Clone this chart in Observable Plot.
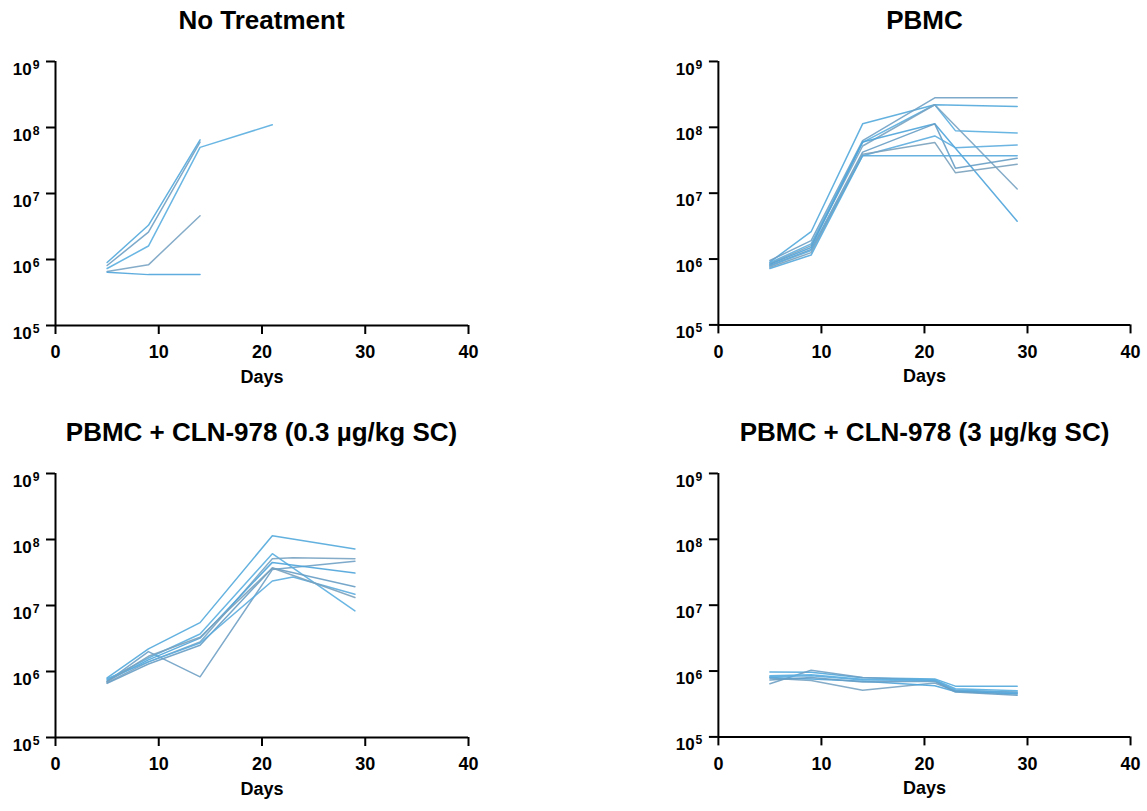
<!DOCTYPE html>
<html><head><meta charset="utf-8">
<script src="https://cdn.jsdelivr.net/npm/d3@7"></script>
<script src="https://cdn.jsdelivr.net/npm/@observablehq/plot@0.6"></script>
<style>
body{margin:0;background:#fff;font-family:"Liberation Sans",Arial,sans-serif;}
#root{position:relative;width:1147px;height:811px;overflow:hidden;background:#fff}
.title{position:absolute;font-weight:bold;font-size:26px;line-height:28px;text-align:center;color:#000;white-space:nowrap}
.panel{position:absolute}
</style></head><body><div id="root"></div>
<script>
// Sampling days (x)
const days = [5, 9, 14, 21, 23, 29];

// Panel titles
const titles = ["No Treatment", "PBMC", "PBMC + CLN-978 (0.3 µg/kg SC)", "PBMC + CLN-978 (3 µg/kg SC)"];

// Axis ticks
const xTicks = [0, 10, 20, 30, 40];
const yTicks = [1e5, 1e6, 1e7, 1e8, 1e9];

// One row per mouse, one value per day in `days` (null = not measured)
const noTreatment = [
  [9.0e5, 3.3e6, 6.5e7, null, null, null],
  [8.1e5, 2.6e6, 6.0e7, null, null, null],
  [7.3e5, 1.6e6, 5.0e7, 1.1e8, null, null],
  [6.6e5, 8.3e5, 4.6e6, null, null, null],
  [6.4e5, 5.9e5, 5.9e5, null, null, null]
];

const pbmc = [
  [9.0e5, 2.6e6, 1.13e8, 2.2e8, null, 2.07e8],
  [9.5e5, 1.9e6, 6.3e7, 2.8e8, null, 2.8e8],
  [8.8e5, 1.7e6, 5.9e7, 2.2e8, 8.9e7, 8.2e7],
  [8.5e5, 1.6e6, 5.2e7, 2.2e8, null, 1.16e7],
  [8.3e5, 1.5e6, 6.0e7, 1.13e8, null, 3.75e6],
  [8.0e5, 1.4e6, 4.2e7, 1.13e8, 2.4e7, 3.4e7],
  [7.8e5, 1.35e6, 3.7e7, 7.4e7, 4.9e7, 5.4e7],
  [7.5e5, 1.25e6, 3.9e7, 5.9e7, 2.05e7, 2.76e7],
  [7.2e5, 1.15e6, 3.7e7, 3.7e7, 3.7e7, 3.7e7]
];

const cln03 = [
  [8.0e5, 2.2e6, 5.5e6, 1.14e8, null, 7.2e7],
  [7.0e5, 2.0e6, 8.3e5, 3.5e7, null, 4.7e7],
  [7.5e5, 1.6e6, 3.7e6, 6.1e7, null, 8.3e6],
  [6.8e5, 1.4e6, 2.8e6, 5.1e7, 5.3e7, 5.1e7],
  [7.2e5, 1.5e6, 3.2e6, 4.5e7, null, 3.1e7],
  [6.6e5, 1.3e6, 2.5e6, 3.7e7, null, 1.93e7],
  [7.8e5, 1.4e6, 2.7e6, 2.35e7, 2.7e7, 1.48e7],
  [7.0e5, 1.7e6, 3.3e6, 3.7e7, null, 1.32e7]
];

const cln3 = [
  [9.7e5, 9.6e5, 7.9e5, 7.6e5, 5.9e5, 5.9e5],
  [6.4e5, 1.03e6, 8.0e5, 7.2e5, 5.0e5, 4.8e5],
  [8.5e5, 8.8e5, 7.5e5, 7.4e5, 5.4e5, 5.0e5],
  [7.8e5, 7.2e5, 5.1e5, 6.6e5, 5.0e5, 4.6e5],
  [8.0e5, 7.6e5, 7.0e5, 6.0e5, 4.9e5, 4.5e5],
  [7.3e5, 8.0e5, 6.8e5, 7.0e5, 4.8e5, 4.3e5],
  [8.2e5, 8.5e5, 7.3e5, 7.2e5, 5.2e5, 4.7e5]
];

const lineColors = ["#52a8dc", "#6fa0c4", "#5aaee0", "#78a3c2", "#4ea4da", "#679dc4", "#5cacde", "#7aa1bd", "#55a9dc"];

const panelData = [noTreatment, pbmc, cln03, cln3];
const layout = [
  {left: 0, top: 40},
  {left: 663, top: 40},
  {left: 0, top: 452},
  {left: 663, top: 452}
];
const titleTop = [6, 6, 418, 418];

const M = {left: 55, right: 17, top: 21, bottom: 70};
const plotW = 413, plotH = 264;

const root = document.getElementById("root");

function toRows(series) {
  const rows = [];
  series.forEach((vals, i) => {
    vals.forEach((v, j) => {
      if (v != null) rows.push({mouse: i, day: days[j], value: v, color: lineColors[i % lineColors.length]});
    });
  });
  return rows;
}

panelData.forEach((series, k) => {
  const rows = toRows(series);
  const plot = Plot.plot({
    width: M.left + plotW + M.right,
    height: M.top + plotH + M.bottom,
    marginLeft: M.left, marginRight: M.right, marginTop: M.top, marginBottom: M.bottom,
    style: {fontFamily: "'Liberation Sans', Arial, sans-serif", fontSize: "18px", fontWeight: "bold", color: "#000", background: "transparent"},
    x: {domain: [0, 40]},
    y: {type: "log", domain: [1e5, 1e9]},
    marks: [
      Plot.axisX({ticks: xTicks, tickSize: 9, tickPadding: 11, strokeWidth: 2, stroke: "#000", fill: "#000", fontSize: 18, fontWeight: "bold", label: null, tickFormat: d => String(d)}),
      Plot.axisY({ticks: yTicks, tickSize: 9, tickPadding: 7, strokeWidth: 2, stroke: "#000", fill: "#000", fontSize: 17, fontWeight: "bold", label: null, tickFormat: d => String(Math.round(Math.log10(d)))}),
      Plot.lineY(rows, {x: "day", y: "value", z: "mouse", stroke: "color", strokeWidth: 1.5, strokeOpacity: 0.9}),
      Plot.ruleX([0], {stroke: "#000", strokeWidth: 2}),
      Plot.ruleY([1e5], {stroke: "#000", strokeWidth: 2}),
      Plot.text(["Days"], {frameAnchor: "bottom", dy: 57, fontSize: 18, fontWeight: "bold", fill: "#000"})
    ]
  });
  // Render "10^n" tick labels with a real superscript exponent
  plot.querySelectorAll('[aria-label="y-axis tick label"] text').forEach(t => {
    const exp = t.textContent;
    t.textContent = "10";
    const sup = document.createElementNS("http://www.w3.org/2000/svg", "tspan");
    sup.setAttribute("dy", "-0.45em");
    sup.setAttribute("dx", "1");
    sup.setAttribute("font-size", "0.72em");
    sup.textContent = exp;
    t.appendChild(sup);
    t.setAttribute("dy", "0.45em");
  });
  const wrap = document.createElement("div");
  wrap.className = "panel";
  wrap.style.left = layout[k].left + "px";
  wrap.style.top = layout[k].top + "px";
  wrap.appendChild(plot);
  root.appendChild(wrap);

  const t = document.createElement("div");
  t.className = "title";
  t.textContent = titles[k];
  t.style.left = (layout[k].left + M.left - 100) + "px";
  t.style.width = (plotW + 200) + "px";
  t.style.top = titleTop[k] + "px";
  root.appendChild(t);
});
</script>
</body></html>
